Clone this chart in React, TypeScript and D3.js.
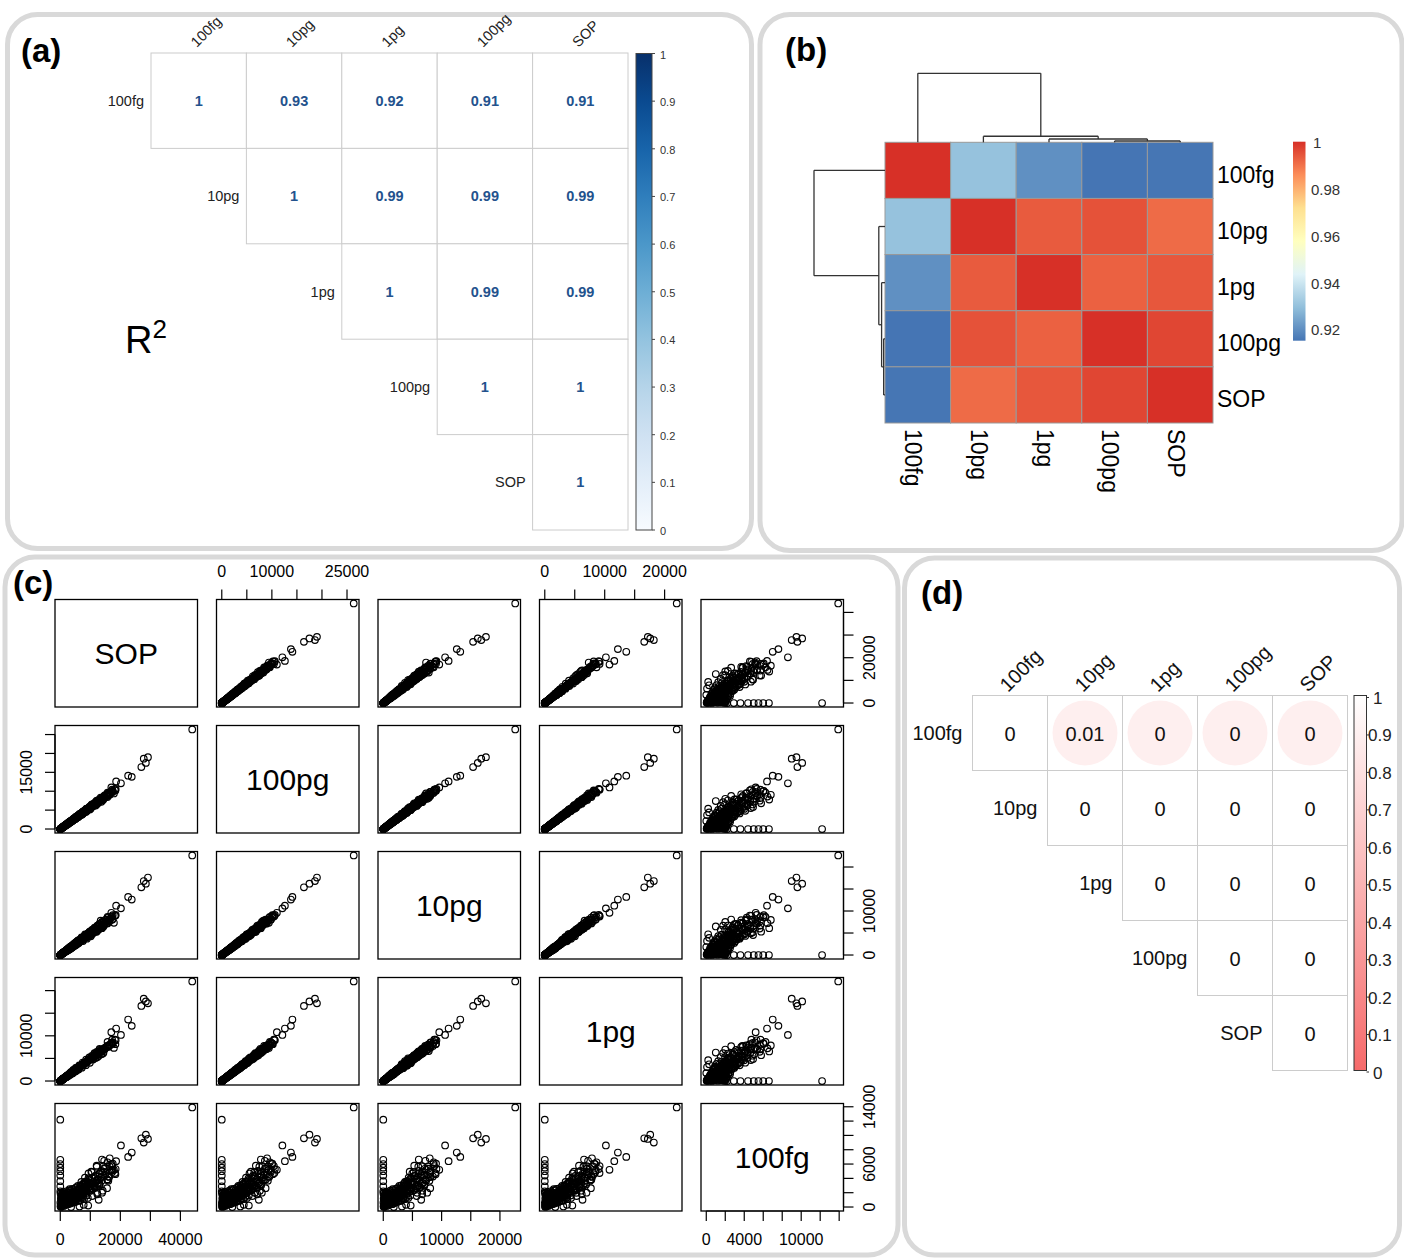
import React from 'react';
import * as d3 from 'd3';

const FONT = '"Liberation Sans", Arial, Helvetica, sans-serif';
const BORDER = '#d9d9d9';

// ---------- shared categories ----------
const samples = ['100fg', '10pg', '1pg', '100pg', 'SOP'];

// ---------- panel (a): R² upper triangle ----------
const r2Rows: number[][] = [
  [1, 0.93, 0.92, 0.91, 0.91],
  [1, 0.99, 0.99, 0.99],
  [1, 0.99, 0.99],
  [1, 1],
  [1],
];
const aLegendTicks = [0, 0.1, 0.2, 0.3, 0.4, 0.5, 0.6, 0.7, 0.8, 0.9, 1];

// ---------- panel (b): clustered correlation heatmap ----------
const corrMatrix: number[][] = [
  [1, 0.93, 0.92, 0.9149, 0.915],
  [0.93, 1, 0.9935, 0.9948, 0.991],
  [0.92, 0.9935, 1, 0.9925, 0.994],
  [0.9149, 0.9948, 0.9925, 1, 0.9966],
  [0.915, 0.991, 0.994, 0.9966, 1],
];
const heatPalette = ['#4575B4', '#91BFDB', '#E0F3F8', '#FFFFBF', '#FEE090', '#FC8D59', '#D73027'];
const bLegendTicks = [0.92, 0.94, 0.96, 0.98, 1];
// hclust-style merges: negative = leaf (1-based), positive = earlier merge (1-based), height
const dendroMerges: [number, number, number][] = [
  [-4, -5, 0.0027],
  [-3, 1, 0.0068],
  [-2, 2, 0.0124],
  [-1, 3, 0.142],
];

// ---------- panel (c): pairs scatter matrix ----------
const pairVars = ['SOP', '100pg', '10pg', '1pg', '100fg'];
// each row: [SOP, 100pg, 10pg, 1pg, 100fg]
const pairData: number[][] = [
  [43940, 26340, 22620, 22020, 13900],
  [28500, 17500, 16200, 17600, 10100],
  [27000, 16400, 15400, 16600, 9600],
  [27800, 18600, 16800, 18200, 9000],
  [29200, 19000, 17600, 17200, 9500],
  [23800, 13800, 12600, 12200, 7600],
  [22600, 14100, 13200, 13600, 7000],
  [20200, 12100, 10600, 10200, 8600],
  [18600, 12600, 11200, 11600, 6400],
  [17000, 11000, 9600, 10800, 5200],
  [16300, 9400, 8100, 7900, 4200],
  [0, 0, 0, 0, 2200],
  [0, 0, 0, 0, 2900],
  [0, 0, 0, 0, 3600],
  [0, 0, 0, 0, 4400],
  [0, 0, 0, 0, 5000],
  [0, 0, 0, 0, 5500],
  [0, 0, 0, 0, 6000],
  [0, 0, 0, 0, 6600],
  [0, 0, 0, 0, 12200],
  [3600, 2100, 1800, 1750, 0],
  [6400, 3700, 3200, 3100, 80],
  [9300, 5400, 4700, 4600, 200],
  [12800, 7400, 6500, 6300, 1000],
  [7800, 4400, 3900, 3700, 300],
  [110, 60, 55, 45, 40],
  [270, 150, 120, 135, 320],
  [360, 220, 210, 170, 880],
  [540, 300, 240, 280, 130],
  [610, 380, 350, 300, 1480],
  [820, 450, 370, 400, 240],
  [860, 520, 480, 410, 620],
  [1090, 600, 490, 540, 1850],
  [1120, 680, 610, 530, 330],
  [1360, 750, 620, 660, 790],
  [1350, 820, 740, 670, 1240],
  [1610, 900, 740, 790, 430],
  [1640, 980, 880, 790, 720],
  [1860, 1050, 870, 910, 1580],
  [1900, 1130, 990, 920, 510],
  [2120, 1200, 1000, 1050, 880],
  [2150, 1280, 1140, 1040, 1330],
  [2410, 1350, 1120, 1170, 630],
  [2390, 1430, 1270, 1180, 1080],
  [2680, 1500, 1240, 1310, 2050],
  [2640, 1580, 1420, 1290, 780],
  [2950, 1660, 1380, 1450, 990],
  [2920, 1740, 1560, 1420, 1530],
  [3230, 1820, 1510, 1590, 690],
  [3200, 1900, 1700, 1550, 1260],
  [3520, 1980, 1640, 1720, 2330],
  [3470, 2060, 1840, 1690, 880],
  [3820, 2150, 1790, 1870, 1420],
  [3740, 2230, 1990, 1830, 1090],
  [4130, 2320, 1930, 2020, 1720],
  [4030, 2400, 2140, 1960, 2520],
  [4440, 2500, 2070, 2180, 980],
  [4370, 2600, 2330, 2120, 1530],
  [4790, 2700, 2240, 2350, 1930],
  [4700, 2800, 2500, 2290, 1180],
  [5150, 2900, 2400, 2520, 2640],
  [5040, 3000, 2690, 2450, 1590],
  [5500, 3100, 2570, 2690, 1280],
  [5380, 3200, 2860, 2620, 2130],
  [5860, 3300, 2740, 2880, 2940],
  [5710, 3400, 3050, 2780, 1680],
  [6210, 3500, 2900, 3040, 1390],
  [6080, 3620, 3240, 2960, 2330],
  [6640, 3740, 3100, 3250, 3030],
  [6490, 3860, 3460, 3160, 1870],
  [7060, 3980, 3300, 3460, 2530],
  [6890, 4100, 3670, 3350, 1580],
  [7510, 4230, 3510, 3680, 3240],
  [7330, 4360, 3900, 3560, 2180],
  [7970, 4490, 3720, 3900, 2830],
  [7760, 4620, 4140, 3780, 1870],
  [8450, 4760, 3950, 4140, 3540],
  [8230, 4900, 4390, 4010, 2470],
  [8950, 5040, 4180, 4380, 3030],
  [8700, 5180, 4640, 4240, 2170],
  [9460, 5330, 4420, 4630, 3740],
  [9210, 5480, 4910, 4480, 2670],
  [9990, 5630, 4670, 4900, 3330],
  [9710, 5780, 5180, 4730, 2370],
  [10550, 5940, 4930, 5170, 4040],
  [10250, 6100, 5470, 4990, 2870],
  [11110, 6260, 5190, 5450, 3540],
  [10790, 6420, 5750, 5250, 2570],
  [11700, 6590, 5470, 5730, 4340],
  [11360, 6760, 6060, 5530, 3070],
  [12300, 6930, 5750, 6030, 3840],
  [11930, 7100, 6360, 5810, 2770],
  [12920, 7280, 6040, 6330, 4650],
  [12530, 7460, 6680, 6100, 3370],
  [13560, 7640, 6340, 6650, 4140],
  [13140, 7820, 7000, 6400, 2970],
  [14200, 8000, 6640, 6960, 4950],
  [13780, 8200, 7350, 6710, 3660],
  [14910, 8400, 6970, 7310, 4440],
  [14450, 8600, 7710, 7040, 5350],
  [15620, 8800, 7300, 7660, 3860],
  [15120, 9000, 8070, 7360, 4750],
  [16420, 9250, 7680, 8050, 5660],
  [15960, 9500, 8510, 7770, 4260],
  [17390, 9800, 8130, 8530, 5150],
  [17470, 10100, 9050, 8260, 6060],
  [18180, 10500, 8920, 9140, 4750],
  [30, 20, 25, 15, 600],
  [90, 40, 30, 40, 1900],
  [100, 70, 65, 55, 150],
  [180, 90, 70, 80, 1200],
  [190, 120, 110, 95, 2000],
  [260, 140, 120, 130, 400],
  [280, 170, 160, 140, 1600],
  [380, 200, 170, 180, 900],
  [360, 230, 210, 190, 50],
  [470, 260, 230, 230, 1300],
  [480, 290, 260, 250, 700],
  [590, 320, 270, 290, 1750],
  [570, 350, 320, 300, 250],
  [700, 380, 330, 340, 1100],
  [680, 410, 370, 350, 1900],
  [800, 440, 380, 390, 500],
  [780, 470, 420, 400, 1450],
  [900, 500, 430, 450, 800],
  [880, 530, 480, 450, 2100],
  [1010, 560, 480, 500, 300],
  [990, 590, 530, 500, 1250],
  [1100, 620, 540, 550, 650],
  [1080, 650, 590, 560, 1700],
  [1220, 680, 580, 600, 1000],
  [1190, 710, 640, 610, 150],
  [1320, 740, 640, 660, 1500],
  [1300, 770, 690, 660, 900],
  [1430, 800, 690, 710, 1950],
  [1400, 830, 740, 710, 450],
  [1530, 860, 740, 760, 1200],
  [1510, 890, 790, 760, 700],
  [1640, 920, 790, 810, 1650],
  [1600, 950, 850, 820, 350],
  [1740, 980, 840, 860, 1050],
  [1700, 1000, 890, 860, 1400],
  [1670, 1030, 865, 845, 1800],
  [1990, 1070, 985, 835, 450],
  [1870, 1100, 880, 990, 1200],
  [2030, 1140, 1000, 980, 700],
  [1940, 1170, 1005, 935, 2200],
  [2200, 1210, 945, 1115, 950],
  [2160, 1240, 1115, 1040, 350],
  [2430, 1280, 1050, 1125, 1600],
  [2150, 1310, 1230, 1035, 800],
  [2375, 1350, 1150, 1175, 1350],
  [2235, 1380, 1160, 1130, 550],
  [2640, 1420, 1305, 1110, 1900],
  [2465, 1450, 1160, 1305, 1050],
  [2650, 1490, 1310, 1280, 600],
  [2525, 1520, 1305, 1215, 1450],
  [2840, 1560, 1215, 1435, 2300],
  [2765, 1590, 1430, 1335, 850],
  [3100, 1630, 1335, 1435, 1250],
  [2720, 1660, 1560, 1310, 400],
  [2990, 1700, 1445, 1480, 1700],
  [2800, 1730, 1455, 1420, 1000],
  [3290, 1770, 1630, 1380, 2000],
  [3060, 1800, 1440, 1620, 750],
  [3275, 1840, 1620, 1580, 1350],
  [3105, 1870, 1610, 1495, 2500],
  [3460, 1900, 1480, 1750, 1150],
  [3360, 1930, 1735, 1620, 500],
  [3725, 1960, 1605, 1725, 1800],
  [3245, 1980, 1860, 1565, 950],
  [3520, 2000, 1700, 1740, 1500],
  [3565, 2050, 1640, 1765, 920],
  [3990, 2100, 1850, 1680, 1575],
  [3525, 2150, 1850, 1980, 645],
  [3870, 2200, 1715, 1850, 1320],
  [3645, 2250, 2025, 1980, 1910],
  [4280, 2300, 1885, 1815, 920],
  [3995, 2350, 2210, 2045, 1290],
  [4270, 2400, 2040, 1970, 600],
  [4065, 2450, 2060, 1910, 1715],
  [4550, 2500, 2300, 2250, 1250],
  [4435, 2550, 2040, 2195, 1150],
  [4940, 2600, 2290, 2080, 1950],
  [4345, 2650, 2280, 2440, 795],
  [4750, 2700, 2105, 2270, 1620],
  [4455, 2750, 2475, 2420, 2340],
  [5210, 2800, 2295, 2210, 1120],
  [4845, 2850, 2680, 2480, 1570],
  [5160, 2900, 2465, 2380, 725],
  [4900, 2950, 2480, 2300, 2065],
  [5460, 3000, 2760, 2700, 1500],
  [5305, 3050, 2440, 2625, 1370],
  [5890, 3100, 2730, 2480, 2325],
  [5165, 3150, 2710, 2900, 945],
  [5630, 3200, 2495, 2690, 1920],
  [5265, 3250, 2925, 2860, 2760],
  [6140, 3300, 2705, 2605, 1320],
  [5695, 3350, 3150, 2915, 1840],
  [6050, 3400, 2890, 2790, 850],
  [5725, 3450, 2900, 2690, 2415],
  [6370, 3500, 3220, 3150, 1750],
  [5925, 3570, 3355, 2820, 1965],
  [6625, 3640, 3095, 3165, 910],
  [6455, 3710, 3115, 3040, 2595],
  [7180, 3780, 3480, 2950, 1890],
  [6315, 3850, 3080, 3465, 1735],
  [6900, 3920, 3450, 3370, 2940],
  [6465, 3990, 3430, 3190, 1195],
  [7550, 4060, 3165, 3735, 2435],
  [7020, 4130, 3715, 3470, 3510],
  [7475, 4200, 3445, 3695, 1680],
  [7090, 4270, 4015, 3375, 2350],
  [7900, 4340, 3690, 3775, 1085],
  [7675, 4410, 3705, 3615, 3085],
  [8510, 4480, 4120, 3495, 2240],
  [7460, 4550, 3640, 4095, 2050],
  [8130, 4620, 4065, 3975, 3465],
  [7600, 4690, 4035, 3750, 1405],
  [8855, 4760, 3715, 4380, 2855],
  [8210, 4830, 4345, 4055, 4105],
  [8720, 4900, 4020, 4310, 1960],
  [8250, 4970, 4670, 3925, 2735],
  [9175, 5040, 4285, 4385, 1260],
  [8890, 5110, 4290, 4190, 3575],
  [9840, 5180, 4765, 4040, 2590],
  [8610, 5250, 4200, 4725, 2365],
  [9365, 5320, 4680, 4575, 3990],
  [8730, 5390, 4635, 4310, 1615],
  [10155, 5460, 4260, 5025, 3275],
  [9400, 5530, 4975, 4645, 4700],
  [9970, 5600, 4590, 4930, 2240],
  [9690, 5700, 4900, 5245, 3420],
  [10325, 5800, 4525, 4870, 4930],
  [9795, 5900, 5310, 5190, 2360],
  [10920, 6000, 4920, 4740, 3300],
  [10615, 6100, 5735, 5305, 1525],
  [11780, 6200, 5270, 5085, 4340],
  [10330, 6300, 5290, 4915, 3150],
  [11265, 6400, 5890, 5760, 2880],
  [10530, 6500, 5200, 5590, 4875],
  [12275, 6600, 5810, 5280, 1980],
  [11390, 6700, 5760, 6165, 4020],
  [12105, 6800, 5305, 5710, 5780],
  [11455, 6900, 6210, 6070, 2760],
  [12740, 7000, 5740, 5530, 3850],
  [12355, 7100, 6675, 6175, 1775],
  [13680, 7200, 6120, 5905, 5040],
  [11970, 7300, 6130, 5695, 3650],
  [13025, 7400, 6810, 6660, 3330],
  [12150, 7500, 6000, 6450, 5625],
  [14135, 7600, 6690, 6080, 2280],
  [13090, 7700, 6620, 7085, 4620],
  [13885, 7800, 6085, 6550, 6630],
  [13030, 7850, 7065, 6910, 3140],
  [14380, 7900, 6480, 6240, 4345],
  [13920, 8000, 7520, 6960, 2000],
  [14345, 8150, 6685, 7010, 5705],
  [13445, 8300, 7800, 6640, 4150],
  [15715, 8450, 7180, 7775, 3800],
  [14620, 8600, 7225, 7225, 6450],
  [15575, 8750, 8050, 7700, 2625],
  [14775, 8900, 7120, 7030, 5340],
  [16470, 9050, 7965, 7875, 6800],
  [16010, 9200, 7910, 7545, 3680],
  [17860, 9400, 7330, 7330, 5170],
  [15745, 9600, 8640, 8640, 6240],
  [17250, 9800, 8035, 8430, 4900],
  [17000, 10000, 8600, 8400, 6000],
  [18360, 10200, 8975, 8160, 4590],
  [17265, 10400, 8735, 9150, 5720],
  [18445, 10600, 9115, 9010, 5300],
];
const pairTicks: number[][] = [
  [0, 10000, 20000, 30000, 40000],
  [0, 5000, 10000, 15000, 20000, 25000],
  [0, 5000, 10000, 15000, 20000],
  [0, 5000, 10000, 15000, 20000],
  [0, 2000, 4000, 6000, 8000, 10000, 12000, 14000],
];
const pairXLabels: number[][] = [[0, 20000, 40000], [0, 10000, 25000], [0, 10000, 20000], [0, 10000, 20000], [0, 4000, 10000]];
const pairYLabels: number[][] = [[0, 20000], [0, 15000], [0, 10000], [0, 10000], [0, 6000, 14000]];

// ---------- panel (d): p-values ----------
const pValueRows: number[][] = [
  [0, 0.01, 0, 0, 0],
  [0, 0, 0, 0],
  [0, 0, 0],
  [0, 0],
  [0],
];
const pCircleShade: (number | null)[][] = [
  [null, 0.89, 0.89, 0.89, 0.89],
  [null, null, null, null],
  [null, null, null],
  [null, null],
  [null],
];
const dLegendTicks = [0, 0.1, 0.2, 0.3, 0.4, 0.5, 0.6, 0.7, 0.8, 0.9, 1];

function PanelA() {
  const x = d3.scaleBand<string>().domain(samples).range([151, 628]);
  const y = d3.scaleBand<string>().domain(samples).range([53, 530]);
  const bw = x.bandwidth();
  const bh = y.bandwidth();
  const legY = d3.scaleLinear().domain([0, 1]).range([530, 53.5]);
  const stops = d3.range(0, 1.0001, 0.1);
  return (
    <g>
      <defs>
        <linearGradient id="gradA" x1="0" y1="1" x2="0" y2="0">
          {stops.map((t) => (
            <stop key={t} offset={`${t * 100}%`} stopColor={d3.interpolateBlues(t)} />
          ))}
        </linearGradient>
      </defs>
      <rect x={7.5} y={14.5} width={744} height={534} rx={30} fill="none" stroke={BORDER} strokeWidth={5} />
      <text x={21} y={62} fontSize={33} fontWeight="bold" fill="#000">(a)</text>
      {r2Rows.map((row, i) =>
        row.map((v, k) => {
          const j = i + k;
          const cx = x(samples[j])!;
          const cy = y(samples[i])!;
          return (
            <g key={`${i}-${j}`}>
              <rect x={cx} y={cy} width={bw} height={bh} fill="#fff" stroke="#cccccc" strokeWidth={1} />
              <text x={cx + bw / 2} y={cy + bh / 2} textAnchor="middle" dominantBaseline="central" fontSize={14.5} fontWeight="bold" fill="#23528d">
                {String(v)}
              </text>
            </g>
          );
        })
      )}
      {samples.map((s) => (
        <text key={`rl${s}`} x={x(s)! - 7} y={y(s)! + bh / 2} textAnchor="end" dominantBaseline="central" fontSize={14.5} fill="#222">
          {s}
        </text>
      ))}
      {samples.map((s) => (
        <text key={`cl${s}`} transform={`translate(${x(s)! + bw / 2 - 2},48) rotate(-45)`} fontSize={14.5} fill="#222">
          {s}
        </text>
      ))}
      <rect x={636} y={53.5} width={16} height={476.5} fill="url(#gradA)" stroke="#444" strokeWidth={1} />
      {aLegendTicks.map((t) => (
        <g key={`at${t}`}>
          <line x1={652} x2={655} y1={legY(t)} y2={legY(t)} stroke="#444" />
          <text x={660} y={legY(t) + 1} dominantBaseline="central" fontSize={11} fill="#333">
            {String(t)}
          </text>
        </g>
      ))}
      <text x={125} y={353} fontSize={38} fill="#000">
        R<tspan dy={-15} fontSize={26}>2</tspan>
      </text>
    </g>
  );
}

function dendroSegments(pos: (i: number) => number): [number, number, number, number][] {
  const nodes: { p: number; h: number }[] = [];
  const segs: [number, number, number, number][] = [];
  dendroMerges.forEach(([a, b, h]) => {
    const get = (c: number) => (c < 0 ? { p: pos(-c - 1), h: 0 } : nodes[c - 1]);
    const A = get(a);
    const B = get(b);
    segs.push([A.p, A.h, A.p, h], [A.p, h, B.p, h], [B.p, h, B.p, B.h]);
    nodes.push({ p: (A.p + B.p) / 2, h });
  });
  return segs;
}

function PanelB() {
  const x = d3.scaleBand<string>().domain(samples).range([885, 1213]);
  const y = d3.scaleBand<string>().domain(samples).range([142.3, 423]);
  const bw = x.bandwidth();
  const bh = y.bandwidth();
  const flat = corrMatrix.flat();
  const mn = d3.min(flat)!;
  const mx = d3.max(flat)!;
  const color = d3
    .scaleLinear<string>()
    .domain(heatPalette.map((_, i) => mn + (i * (mx - mn)) / (heatPalette.length - 1)))
    .range(heatPalette)
    .interpolate(d3.interpolateRgb);
  const maxH = d3.max(dendroMerges, (d) => d[2])!;
  const topH = d3.scaleLinear().domain([0, maxH]).range([142.3, 73.3]);
  const leftH = d3.scaleLinear().domain([0, maxH]).range([885, 814]);
  const topSegs = dendroSegments((i) => x(samples[i])! + bw / 2);
  const leftSegs = dendroSegments((i) => y(samples[i])! + bh / 2);
  const legY = d3.scaleLinear().domain([mn, mx]).range([340.7, 141.7]);
  return (
    <g>
      <defs>
        <linearGradient id="gradB" x1="0" y1="1" x2="0" y2="0">
          {heatPalette.map((c, i) => (
            <stop key={c} offset={`${(i / (heatPalette.length - 1)) * 100}%`} stopColor={c} />
          ))}
        </linearGradient>
      </defs>
      <rect x={760} y={14.5} width={642} height={536} rx={30} fill="none" stroke={BORDER} strokeWidth={5} />
      <text x={785} y={61} fontSize={33} fontWeight="bold" fill="#000">(b)</text>
      {corrMatrix.map((row, i) =>
        row.map((v, j) => (
          <rect key={`h${i}-${j}`} x={x(samples[j])!} y={y(samples[i])!} width={bw} height={bh} fill={color(v)} stroke="#999999" strokeWidth={1} />
        ))
      )}
      {topSegs.map((s, k) => (
        <line key={`ts${k}`} x1={s[0]} y1={topH(s[1])} x2={s[2]} y2={topH(s[3])} stroke="#333" strokeWidth={1.3} />
      ))}
      {leftSegs.map((s, k) => (
        <line key={`ls${k}`} x1={leftH(s[1])} y1={s[0]} x2={leftH(s[3])} y2={s[2]} stroke="#333" strokeWidth={1.3} />
      ))}
      {samples.map((s) => (
        <text key={`br${s}`} x={1217} y={y(s)! + bh / 2 + 12.5} fontSize={23} fill="#000">
          {s}
        </text>
      ))}
      {samples.map((s) => (
        <text key={`bc${s}`} transform={`translate(${x(s)! + bw / 2 - 12.5},429) rotate(90)`} fontSize={23} fill="#000">
          {s}
        </text>
      ))}
      <rect x={1293} y={141.7} width={12.5} height={199} fill="url(#gradB)" />
      {bLegendTicks.map((t) => (
        <text key={`bt${t}`} x={t === 1 ? 1313 : 1311} y={legY(t) + 1} dominantBaseline="central" fontSize={15} fill="#333">
          {String(t)}
        </text>
      ))}
    </g>
  );
}

function PanelC() {
  const colBand = d3.scaleBand<string>().domain(pairVars).range([55, 843.5]).paddingInner(19 / 161.5);
  const rowBand = d3.scaleBand<string>().domain(pairVars).range([599.5, 1211]).paddingInner(18.5 / 126);
  const bw = colBand.bandwidth();
  const bh = rowBand.bandwidth();
  const domains = pairVars.map((_, k) => {
    const [lo, hi] = d3.extent(pairData, (d) => d[k]) as [number, number];
    const r = hi - lo;
    return [lo - 0.04 * r, hi + 0.04 * r];
  });
  const xScale = (j: number) => {
    const x0 = colBand(pairVars[j])!;
    return d3.scaleLinear().domain(domains[j]).range([x0, x0 + bw]);
  };
  const yScale = (i: number) => {
    const y0 = rowBand(pairVars[i])!;
    return d3.scaleLinear().domain(domains[i]).range([y0 + bh, y0]);
  };
  const TICK = 10;
  const LAB = 28;
  const fs = 16;
  return (
    <g>
      <rect x={5} y={557} width={893} height={698} rx={30} fill="none" stroke={BORDER} strokeWidth={5} />
      <text x={13} y={594} fontSize={33} fontWeight="bold" fill="#000">(c)</text>
      {pairVars.map((vi, i) =>
        pairVars.map((vj, j) => {
          const x0 = colBand(vj)!;
          const y0 = rowBand(vi)!;
          if (i === j) {
            return (
              <g key={`c${i}-${j}`}>
                <rect x={x0} y={y0} width={bw} height={bh} fill="#fff" stroke="#000" strokeWidth={1.3} />
                <text x={x0 + bw / 2} y={y0 + bh / 2} textAnchor="middle" dominantBaseline="central" fontSize={30} fill="#000">
                  {vi}
                </text>
              </g>
            );
          }
          const xs = xScale(j);
          const ys = yScale(i);
          return (
            <g key={`c${i}-${j}`}>
              <rect x={x0} y={y0} width={bw} height={bh} fill="#fff" stroke="#000" strokeWidth={1.3} />
              {pairData.map((d, k) => (
                <circle key={k} cx={xs(d[j])} cy={ys(d[i])} r={3.3} fill="none" stroke="#000" strokeWidth={1.15} />
              ))}
            </g>
          );
        })
      )}
      {pairVars.map((v, j) => {
        const xs = xScale(j);
        const top = j % 2 === 1;
        const yEdge = top ? rowBand(pairVars[0])! : rowBand(pairVars[4])! + bh;
        const dir = top ? -1 : 1;
        const ticks = pairTicks[j];
        return (
          <g key={`xa${j}`}>
            <line x1={xs(ticks[0])} x2={xs(ticks[ticks.length - 1])} y1={yEdge} y2={yEdge} stroke="#000" strokeWidth={1.2} />
            {ticks.map((t) => (
              <line key={t} x1={xs(t)} x2={xs(t)} y1={yEdge} y2={yEdge + dir * TICK} stroke="#000" strokeWidth={1.2} />
            ))}
            {pairXLabels[j].map((t) => (
              <text key={`l${t}`} x={xs(t)} y={yEdge + dir * LAB} textAnchor="middle" dominantBaseline="central" fontSize={fs} fill="#000">
                {String(t)}
              </text>
            ))}
          </g>
        );
      })}
      {pairVars.map((v, i) => {
        const ys = yScale(i);
        const left = i % 2 === 1;
        const xEdge = left ? colBand(pairVars[0])! : colBand(pairVars[4])! + bw;
        const dir = left ? -1 : 1;
        const ticks = pairTicks[i];
        return (
          <g key={`ya${i}`}>
            <line x1={xEdge} x2={xEdge} y1={ys(ticks[0])} y2={ys(ticks[ticks.length - 1])} stroke="#000" strokeWidth={1.2} />
            {ticks.map((t) => (
              <line key={t} x1={xEdge} x2={xEdge + dir * TICK} y1={ys(t)} y2={ys(t)} stroke="#000" strokeWidth={1.2} />
            ))}
            {pairYLabels[i].map((t) => (
              <text key={`l${t}`} transform={`translate(${xEdge + dir * (left ? 29 : 26)},${ys(t)}) rotate(-90)`} textAnchor="middle" dominantBaseline="central" fontSize={fs} fill="#000">
                {String(t)}
              </text>
            ))}
          </g>
        );
      })}
    </g>
  );
}

function PanelD() {
  const x = d3.scaleBand<string>().domain(samples).range([972.5, 1347.5]);
  const y = d3.scaleBand<string>().domain(samples).range([695.5, 1070.5]);
  const bw = x.bandwidth();
  const bh = y.bandwidth();
  const shade = d3.scaleLinear<string>().domain([0, 1]).range(['#f66a6a', '#ffffff']).interpolate(d3.interpolateRgb);
  const legY = d3.scaleLinear().domain([0, 1]).range([1072, 697.5]);
  return (
    <g>
      <defs>
        <linearGradient id="gradD" x1="0" y1="1" x2="0" y2="0">
          <stop offset="0%" stopColor={shade(0)} />
          <stop offset="100%" stopColor={shade(1)} />
        </linearGradient>
      </defs>
      <rect x={904.5} y={558} width={495} height={697} rx={30} fill="none" stroke={BORDER} strokeWidth={5} />
      <text x={921} y={604} fontSize={33} fontWeight="bold" fill="#000">(d)</text>
      {pValueRows.map((row, i) =>
        row.map((v, k) => {
          const j = i + k;
          const cx = x(samples[j])!;
          const cy = y(samples[i])!;
          const sh = pCircleShade[i][k];
          return (
            <g key={`d${i}-${j}`}>
              <rect x={cx} y={cy} width={bw} height={bh} fill="#fff" stroke="#cccccc" strokeWidth={1} />
              {sh !== null && <circle cx={cx + bw / 2} cy={cy + bh / 2} r={32.5} fill={shade(sh)} />}
              <text x={cx + bw / 2} y={cy + bh / 2 + 1} textAnchor="middle" dominantBaseline="central" fontSize={20} fill="#111">
                {String(v)}
              </text>
            </g>
          );
        })
      )}
      {samples.map((s) => (
        <text key={`dr${s}`} x={x(s)! - 10} y={y(s)! + bh / 2} textAnchor="end" dominantBaseline="central" fontSize={20} fill="#111">
          {s}
        </text>
      ))}
      {samples.map((s) => (
        <text key={`dc${s}`} transform={`translate(${x(s)! + bw / 2 - 2},693) rotate(-45)`} fontSize={20} fill="#111">
          {s}
        </text>
      ))}
      <rect x={1354} y={695.5} width={12.5} height={375} fill="url(#gradD)" stroke="#333" strokeWidth={1} />
      {dLegendTicks.map((t) => (
        <g key={`dt${t}`}>
          <line x1={1366.5} x2={1369} y1={legY(t)} y2={legY(t)} stroke="#333" />
          <text x={t === 0 || t === 1 ? 1373 : 1368} y={legY(t) + 1} dominantBaseline="central" fontSize={17} fill="#222">
            {String(t)}
          </text>
        </g>
      ))}
    </g>
  );
}

export default function App() {
  return (
    <svg
      width={1404}
      height={1258}
      viewBox="0 0 1404 1258"
      style={{ position: 'absolute', left: 0, top: 0, display: 'block', background: '#fff' }}
      fontFamily={FONT}
    >
      <rect x={0} y={0} width={1404} height={1258} fill="#fff" />
      <PanelA />
      <PanelB />
      <PanelC />
      <PanelD />
    </svg>
  );
}
